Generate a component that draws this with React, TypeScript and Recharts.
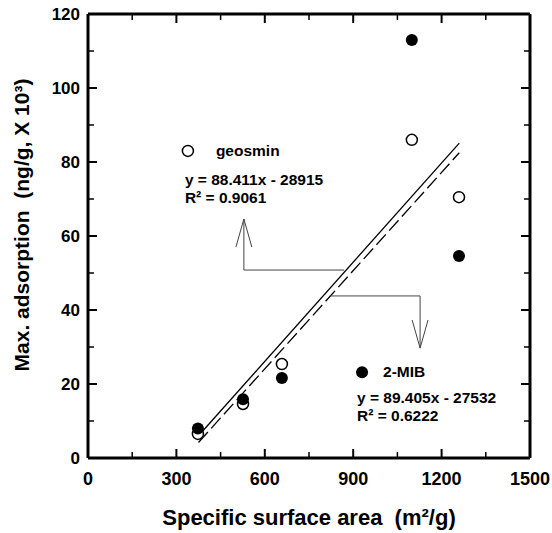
import React from "react";
import {
  ScatterChart,
  Scatter,
  XAxis,
  YAxis,
  ReferenceDot,
} from "recharts";

// measured points (x = specific surface area, y = max adsorption x10^3)
const surfaceArea = [373, 526, 658, 1099, 1259];
const geosmin = [6.5, 14.6, 25.4, 86.0, 70.5];
const mib = [8.0, 15.9, 21.6, 113.0, 54.6];

// fitted lines, end points
const fitX = [375, 1260];
const geosminFit = [4.2, 82.5];
const mibFit = [6.0, 85.1];

// callout arrows
const geosminArrowX = [869, 529, 529];
const geosminArrowY = [50.8, 50.8, 64.6];
const geosminHeadX = [502, 529, 556];
const geosminHeadY = [57.0, 64.6, 57.0];
const mibArrowX = [821, 1127, 1127];
const mibArrowY = [43.8, 43.8, 29.7];
const mibHeadX = [1100, 1127, 1154];
const mibHeadY = [37.3, 29.7, 37.3];

const xTicks = [0, 150, 300, 450, 600, 750, 900, 1050, 1200, 1350, 1500];
const yTicks = [0, 10, 20, 30, 40, 50, 60, 70, 80, 90, 100, 110, 120];

const FONT = '"Liberation Sans", Arial, Helvetica, sans-serif';
const NB = "\u00A0";

const zip = (xs: number[], ys: number[]) => xs.map((x, i) => ({ x, y: ys[i] }));

const geosminData = zip(surfaceArea, geosmin);
const mibData = zip(surfaceArea, mib);

const noShape = () => <g />;

const openDot = (p: any) => (
  <circle cx={p.cx} cy={p.cy} r={5.5} fill="#fff" stroke="#000" strokeWidth={1.5} />
);
const filledDot = (p: any) => <circle cx={p.cx} cy={p.cy} r={6} fill="#000" />;

function BottomTick({ x, y, payload }: any) {
  const major = payload.value % 300 === 0;
  return (
    <g>
      <line x1={x} y1={y} x2={x} y2={y - (major ? 9 : 6)} stroke="#000" strokeWidth={major ? 2 : 1.5} />
      {major && (
        <text x={x} y={y + 27} textAnchor="middle" fontFamily={FONT} fontWeight="bold" fontSize={18} fill="#000">
          {payload.value}
        </text>
      )}
    </g>
  );
}

function TopTick({ x, y, payload }: any) {
  const major = payload.value % 300 === 0;
  return <line x1={x} y1={y} x2={x} y2={y + (major ? 9 : 6)} stroke="#000" strokeWidth={major ? 2 : 1.5} />;
}

function LeftTick({ x, y, payload }: any) {
  const major = payload.value % 20 === 0;
  return (
    <g>
      <line x1={x} y1={y} x2={x + (major ? 9 : 6)} y2={y} stroke="#000" strokeWidth={major ? 2 : 1.5} />
      {major && (
        <text x={x - 8} y={y + 6} textAnchor="end" fontFamily={FONT} fontWeight="bold" fontSize={17} fill="#000">
          {payload.value}
        </text>
      )}
    </g>
  );
}

function RightTick({ x, y, payload }: any) {
  const major = payload.value % 20 === 0;
  return <line x1={x} y1={y} x2={x - (major ? 9 : 6)} y2={y} stroke="#000" strokeWidth={major ? 2 : 1.5} />;
}

const note =
  (title: string, eq: string, r2: string, titleDx: number, eqDx: number, eqDy: number) =>
  (props: any) => {
    const vb = props.viewBox || {};
    const cx = vb.x + vb.width / 2;
    const cy = vb.y + vb.height / 2;
    return (
      <g fontFamily={FONT} fontWeight="bold" fontSize={15.5} fill="#000">
        <text x={cx + titleDx} y={cy + 5}>{title}</text>
        <text x={cx + eqDx} y={cy + eqDy}>{eq}</text>
        <text x={cx + eqDx} y={cy + eqDy + 18}>{r2}</text>
      </g>
    );
  };

const axisLine = { stroke: "#000", strokeWidth: 3 };

export default function App() {
  return (
    <div style={{ position: "absolute", left: 0, top: 0, background: "#fff" }}>
      <ScatterChart width={552} height={533} margin={{ top: 13, right: 21, left: 0, bottom: 0 }}>
        <XAxis
          type="number"
          dataKey="x"
          domain={[0, 1500]}
          ticks={xTicks}
          interval={0}
          height={75}
          tickSize={0}
          tickMargin={0}
          tickLine={false}
          axisLine={axisLine}
          tick={<BottomTick />}
          label={(p: any) => (
            <text
              x={p.viewBox.x + p.viewBox.width / 2}
              y={p.viewBox.y + 67}
              textAnchor="middle"
              fontFamily={FONT}
              fontWeight="bold"
              fontSize={22}
              fill="#000"
            >
              {`Specific surface area${NB}${NB}(m²/g)`}
            </text>
          )}
        />
        <XAxis
          xAxisId="top"
          orientation="top"
          type="number"
          dataKey="x"
          domain={[0, 1500]}
          ticks={xTicks}
          interval={0}
          height={1}
          tickSize={0}
          tickMargin={0}
          tickLine={false}
          axisLine={axisLine}
          tick={<TopTick />}
        />
        <YAxis
          type="number"
          dataKey="y"
          domain={[0, 120]}
          ticks={yTicks}
          interval={0}
          width={88}
          tickSize={0}
          tickMargin={0}
          tickLine={false}
          axisLine={axisLine}
          tick={<LeftTick />}
          label={() => (
            <text
              x={21}
              y={225}
              transform="rotate(-90 21 225)"
              textAnchor="middle"
              dominantBaseline="central"
              fontFamily={FONT}
              fontWeight="bold"
              fontSize={21}
              fill="#000"
            >
              {`Max. adsorption${NB}${NB}(ng/g, X 10³)`}
            </text>
          )}
        />
        <YAxis
          yAxisId="right"
          orientation="right"
          type="number"
          dataKey="y"
          domain={[0, 120]}
          ticks={yTicks}
          interval={0}
          width={1}
          tickSize={0}
          tickMargin={0}
          tickLine={false}
          axisLine={axisLine}
          tick={<RightTick />}
        />

        {/* hidden series so the mirrored frame axes get drawn */}
        <Scatter xAxisId="top" yAxisId="right" data={geosminData} shape={noShape} isAnimationActive={false} />

        <Scatter data={zip(fitX, geosminFit)} line={{ stroke: "#000", strokeWidth: 1.3, strokeDasharray: "14 5" }} shape={noShape} isAnimationActive={false} />
        <Scatter data={zip(fitX, mibFit)} line={{ stroke: "#000", strokeWidth: 1.3 }} shape={noShape} isAnimationActive={false} />

        <Scatter data={zip(geosminArrowX, geosminArrowY)} line={{ stroke: "#444", strokeWidth: 1 }} shape={noShape} isAnimationActive={false} />
        <Scatter data={zip(geosminHeadX, geosminHeadY)} line={{ stroke: "#444", strokeWidth: 1 }} shape={noShape} isAnimationActive={false} />
        <Scatter data={zip(mibArrowX, mibArrowY)} line={{ stroke: "#444", strokeWidth: 1 }} shape={noShape} isAnimationActive={false} />
        <Scatter data={zip(mibHeadX, mibHeadY)} line={{ stroke: "#444", strokeWidth: 1 }} shape={noShape} isAnimationActive={false} />

        <Scatter data={geosminData} shape={openDot} isAnimationActive={false} />
        <Scatter data={mibData} shape={filledDot} isAnimationActive={false} />

        <ReferenceDot
          x={339}
          y={83}
          r={5.5}
          fill="#fff"
          stroke="#000"
          strokeWidth={1.5}
          label={note("geosmin", "y = 88.411x - 28915", "R² = 0.9061", 28, -3, 34)}
        />
        <ReferenceDot
          x={930}
          y={23.2}
          r={6}
          fill="#000"
          stroke="#000"
          strokeWidth={0}
          label={note("2-MIB", "y = 89.405x - 27532", "R² = 0.6222", 21, -5, 31)}
        />
      </ScatterChart>
    </div>
  );
}
